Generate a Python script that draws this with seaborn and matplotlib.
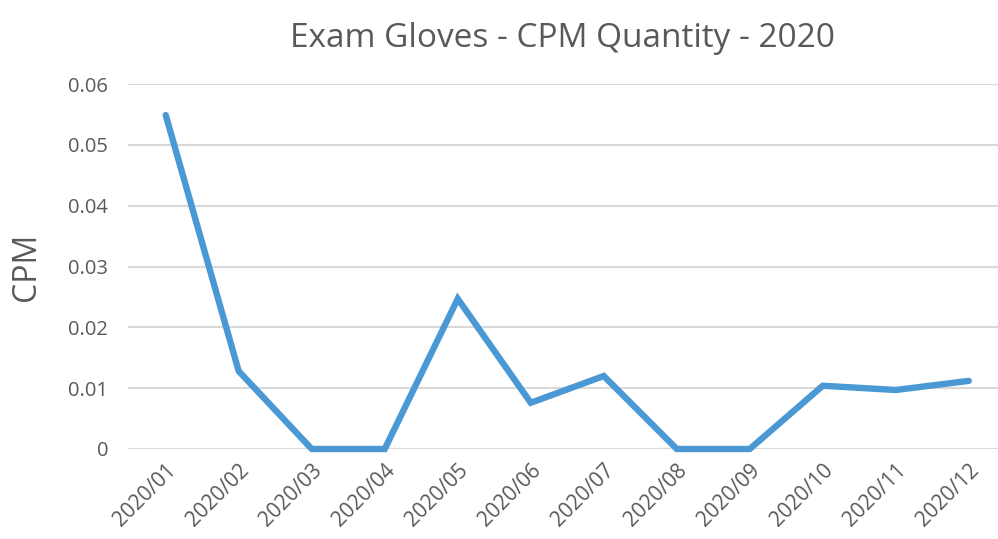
import pandas as pd
import matplotlib
matplotlib.use('Agg')
import matplotlib.pyplot as plt
import seaborn as sns

# Monthly CPM values
months = ['2020/01', '2020/02', '2020/03', '2020/04', '2020/05', '2020/06',
          '2020/07', '2020/08', '2020/09', '2020/10', '2020/11', '2020/12']
cpm = [0.0549, 0.0128, 0.0, 0.0, 0.0247, 0.0076,
       0.0120, 0.0, 0.0, 0.0104, 0.0097, 0.0112]
y_ticks = [0, 0.01, 0.02, 0.03, 0.04, 0.05, 0.06]
y_tick_labels = ['0', '0.01', '0.02', '0.03', '0.04', '0.05', '0.06']

df = pd.DataFrame({'Month': months, 'CPM': cpm})
df['pos'] = range(len(df))

sns.set_style('white')
plt.rcParams['font.family'] = ['Open Sans', 'DejaVu Sans']
text_color = '#595959'

fig = plt.figure(figsize=(9.98, 5.39), dpi=100)
ax = fig.add_axes([0.128, 0.167, 0.872, 0.677])

sns.lineplot(data=df, x='pos', y='CPM', ax=ax, color='#4a98d4',
             linewidth=4.6, solid_joinstyle='miter', clip_on=False)

ax.set_xlim(-0.52, 11.4)
ax.set_ylim(0, 0.06)
ax.set_yticks(y_ticks)
ax.set_yticklabels(y_tick_labels)
ax.set_xticks(df['pos'])
ax.set_xticklabels(months, rotation=45, ha='right', rotation_mode='anchor')

ax.grid(axis='y', color='#d9d9d9', linewidth=1.5)
ax.set_axisbelow(True)
for s in ax.spines.values():
    s.set_visible(False)
ax.tick_params(axis='y', length=0, pad=14, labelsize=14.5, labelcolor=text_color)
ax.tick_params(axis='x', length=0, pad=8, labelsize=15, labelcolor=text_color)
for lbl in ax.get_xticklabels():
    lbl.set_x(lbl.get_position()[0])

ax.set_xlabel('')
ax.set_ylabel('CPM', fontsize=23, color=text_color, labelpad=18)
ax.set_title('Exam Gloves - CPM Quantity - 2020', fontsize=24,
             color=text_color, pad=27)

fig.savefig('out.png', dpi=100)
